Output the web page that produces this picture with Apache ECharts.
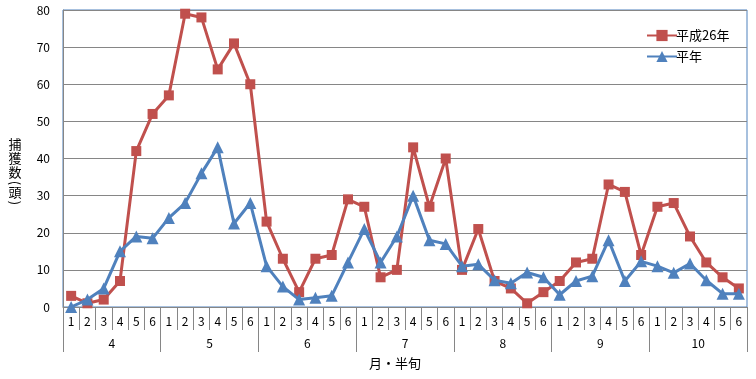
<!DOCTYPE html>
<html>
<head>
<meta charset="utf-8">
<script src="https://cdn.jsdelivr.net/npm/echarts@6/dist/echarts.min.js"></script>
<style>
html,body{margin:0;padding:0;background:#fff;}
#c{width:756px;height:379px;}
</style>
</head>
<body>
<div id="c"></div>
<script>
var months = ['4', '5', '6', '7', '8', '9', '10'];
var halves = ['1', '2', '3', '4', '5', '6'];
var h26 = [
  3, 1, 2, 7, 42, 52,
  57, 79, 78, 64, 71, 60,
  23, 13, 4, 13, 14, 29,
  27, 8, 10, 43, 27, 40,
  10, 21, 7, 5, 1, 4,
  7, 12, 13, 33, 31, 14,
  27, 28, 19, 12, 8, 5
];
var normal = [
  0, 2, 5, 15, 19, 18.5,
  24, 28, 36, 43, 22.5, 28,
  11, 5.5, 2, 2.5, 3, 12,
  21, 12, 19, 30, 18, 17,
  11, 11.5, 7.2, 6.4, 9.3, 8,
  3.3, 7, 8.3, 18, 7, 12.3,
  11, 9.2, 11.7, 7.2, 3.6, 3.6
];
var seriesNames = ['平成26年', '平年'];
var yNameChars = ['捕', '獲', '数', '(', '頭', ')'];

var cats = [];
months.forEach(function (m) { halves.forEach(function (h) { cats.push(m + '-' + h); }); });

var FONT = '"Noto Sans CJK JP", "DejaVu Sans", sans-serif';
var yNameCentersY = [144, 158, 172, 183, 192, 203];
var yNameGraphics = yNameChars.map(function (ch, i) {
  var isParen = (ch === '(' || ch === ')');
  return {type: 'text', x: 15, y: yNameCentersY[i],
    rotation: isParen ? -Math.PI / 2 : 0,
    style: {text: ch, fill: '#000', font: '13px ' + FONT, align: 'center', verticalAlign: 'middle'}};
});

var chart = echarts.init(document.getElementById('c'), null, {renderer: 'canvas'});
chart.setOption({
  animation: false,
  textStyle: {fontFamily: FONT},
  grid: {left: 63, right: 9, top: 10, bottom: 72, show: true, borderColor: '#4f81bd', borderWidth: 1, backgroundColor: 'transparent'},
  legend: {
    orient: 'vertical', left: 641, top: 24, itemGap: 8,
    itemWidth: 30, itemHeight: 14,
    textStyle: {fontSize: 13, color: '#000', fontFamily: FONT, padding: [0, 0, 0, -6]},
    data: seriesNames
  },
  xAxis: [{
    type: 'category', data: cats, boundaryGap: true,
    axisLine: {lineStyle: {color: '#868686', width: 1}},
    axisTick: {show: true, length: 23, interval: 0, lineStyle: {color: '#868686'}},
    axisLabel: {interval: 0, margin: 8, fontSize: 12, color: '#000', fontFamily: FONT,
      formatter: function (v) { return v.split('-')[1]; }},
    splitLine: {show: false}
  }, {
    type: 'category', data: months, boundaryGap: true, position: 'bottom',
    axisLine: {show: false},
    axisTick: {show: true, length: 45, interval: 0, lineStyle: {color: '#868686'}},
    axisLabel: {interval: 0, margin: 30, fontSize: 12, color: '#000', fontFamily: FONT},
    splitLine: {show: false}
  }],
  yAxis: {
    type: 'value', min: 0, max: 80, interval: 10,
    axisLine: {show: true, lineStyle: {color: '#868686'}},
    axisTick: {show: false},
    axisLabel: {fontSize: 12, color: '#000', margin: 13, fontFamily: FONT},
    splitLine: {lineStyle: {color: '#868686', width: 1}}
  },
  series: [{
    name: seriesNames[0], type: 'line', data: h26, xAxisIndex: 0,
    symbol: 'rect', symbolSize: 10,
    lineStyle: {color: '#c0504d', width: 3},
    itemStyle: {color: '#c0504d'},
    z: 3
  }, {
    name: seriesNames[1], type: 'line', data: normal, xAxisIndex: 0,
    symbol: 'triangle', symbolSize: 12,
    lineStyle: {color: '#4f81bd', width: 3},
    itemStyle: {color: '#4f81bd'},
    z: 4
  }],
  graphic: yNameGraphics.concat([{
    type: 'text', left: 369, top: 357,
    style: {text: '月・半旬', fill: '#000', font: '13px ' + FONT}
  }])
});
</script>
</body>
</html>
